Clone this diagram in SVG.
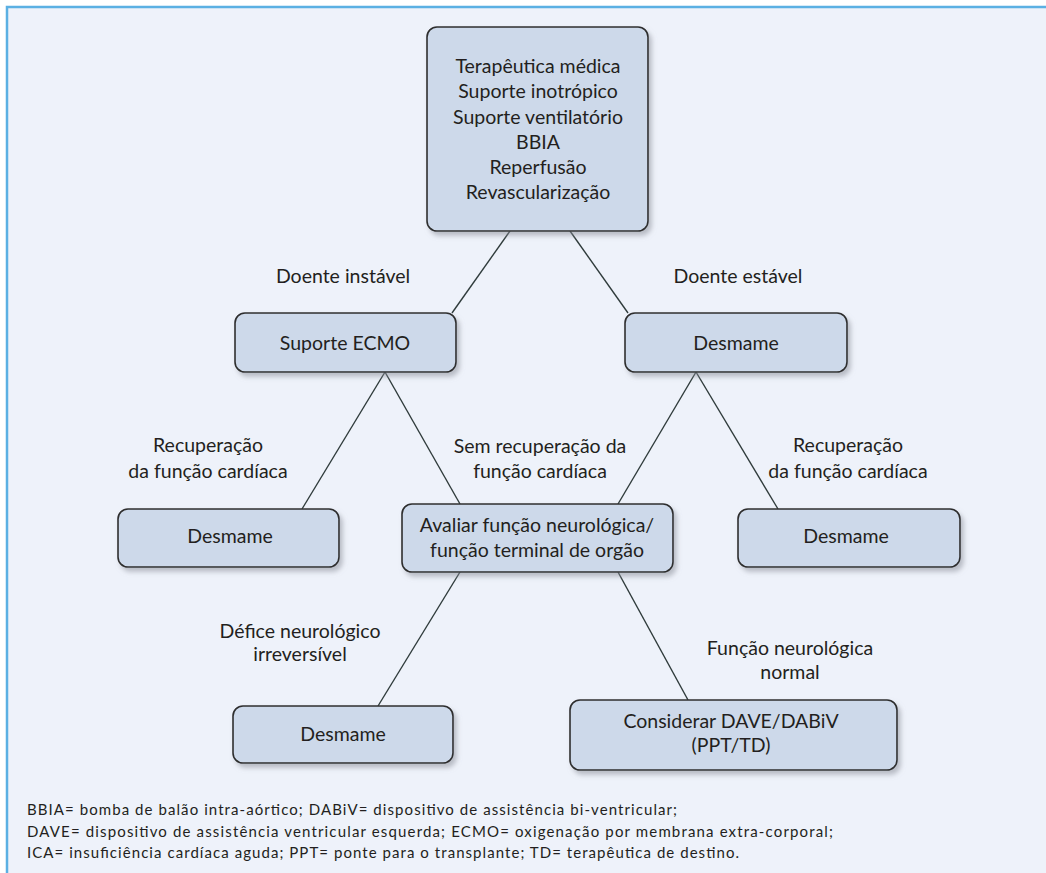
<svg xmlns="http://www.w3.org/2000/svg" width="1046" height="873" viewBox="0 0 1046 873">
<defs>
<filter id="sh" x="-10%" y="-10%" width="130%" height="140%">
<feDropShadow dx="3" dy="4" stdDeviation="2.5" flood-color="#8a8f99" flood-opacity="0.55"/>
</filter>
<style>
.box{fill:#CDD9EA;stroke:#2e2e2e;stroke-width:1.6;filter:url(#sh)}
.t{font-family:Lato,"Liberation Sans",sans-serif;font-size:19.5px;fill:#231F20;text-anchor:middle}
.lg{font-family:Lato,"Liberation Sans",sans-serif;font-size:15px;fill:#231F20}
.c{stroke:#2F3B3B;stroke-width:1.4;fill:none}
</style>
</defs>
<rect x="0" y="0" width="1046" height="873" fill="#ffffff"/>
<rect x="7" y="7" width="1039" height="866" fill="#EEF2FA"/>
<path d="M7,873 V7 H1046" fill="none" stroke="#5BB0E3" stroke-width="2.5"/>

<g id="connectors">
<line class="c" x1="510" y1="231" x2="452" y2="313"/>
<line class="c" x1="570" y1="231" x2="628" y2="313"/>
<line class="c" x1="385" y1="372" x2="302" y2="509"/>
<line class="c" x1="385" y1="372" x2="460" y2="504"/>
<line class="c" x1="696" y1="372" x2="618" y2="504"/>
<line class="c" x1="696" y1="372" x2="778" y2="509"/>
<line class="c" x1="460" y1="572" x2="378" y2="706"/>
<line class="c" x1="618" y1="572" x2="688" y2="700"/>
</g>

<g id="n-top">
<rect class="box" x="427" y="27" width="221" height="204" rx="10"/>
<text class="t" x="538" y="73">Terapêutica médica</text>
<text class="t" x="538" y="98">Suporte inotrópico</text>
<text class="t" x="538" y="123.5">Suporte ventilatório</text>
<text class="t" x="538" y="148.5">BBIA</text>
<text class="t" x="538" y="174">Reperfusão</text>
<text class="t" x="538" y="199">Revascularização</text>
</g>
<g id="n-ecmo">
<rect class="box" x="235" y="313" width="221" height="59" rx="10"/>
<text class="t" x="345" y="350">Suporte ECMO</text>
</g>
<g id="n-desmame-stable">
<rect class="box" x="625" y="313" width="222" height="59" rx="10"/>
<text class="t" x="736" y="350">Desmame</text>
</g>
<g id="n-desmame-left">
<rect class="box" x="118" y="509" width="221" height="58" rx="10"/>
<text class="t" x="230" y="543">Desmame</text>
</g>
<g id="n-avaliar">
<rect class="box" x="402" y="504" width="271" height="68" rx="10"/>
<text class="t" x="537" y="532">Avaliar função neurológica/</text>
<text class="t" x="537" y="557">função terminal de orgão</text>
</g>
<g id="n-desmame-right">
<rect class="box" x="738" y="509" width="222" height="58" rx="10"/>
<text class="t" x="846" y="543">Desmame</text>
</g>
<g id="n-desmame-bottom">
<rect class="box" x="233" y="706" width="220" height="57" rx="10"/>
<text class="t" x="343" y="741">Desmame</text>
</g>
<g id="n-considerar">
<rect class="box" x="570" y="700" width="327" height="70" rx="10"/>
<text class="t" x="731" y="728">Considerar DAVE/DABiV</text>
<text class="t" x="731" y="752">(PPT/TD)</text>
</g>

<g id="labels">
<text class="t" x="343" y="283">Doente instável</text>
<text class="t" x="738" y="283">Doente estável</text>
<text class="t" x="208" y="452">Recuperação</text>
<text class="t" x="208" y="478">da função cardíaca</text>
<text class="t" x="540" y="453">Sem recuperação da</text>
<text class="t" x="540" y="478">função cardíaca</text>
<text class="t" x="848" y="452">Recuperação</text>
<text class="t" x="848" y="478">da função cardíaca</text>
<text class="t" x="300" y="638">Défice neurológico</text>
<text class="t" x="300" y="661">irreversível</text>
<text class="t" x="790" y="655">Função neurológica</text>
<text class="t" x="790" y="679">normal</text>
</g>

<g id="legend">
<text class="lg" x="27" y="815" textLength="650" lengthAdjust="spacing">BBIA= bomba de balão intra-aórtico; DABiV= dispositivo de assistência bi-ventricular;</text>
<text class="lg" x="27" y="837" textLength="806" lengthAdjust="spacing">DAVE= dispositivo de assistência ventricular esquerda; ECMO= oxigenação por membrana extra-corporal;</text>
<text class="lg" x="27" y="858" textLength="712" lengthAdjust="spacing">ICA= insuficiência cardíaca aguda; PPT= ponte para o transplante; TD= terapêutica de destino.</text>
</g>
</svg>
